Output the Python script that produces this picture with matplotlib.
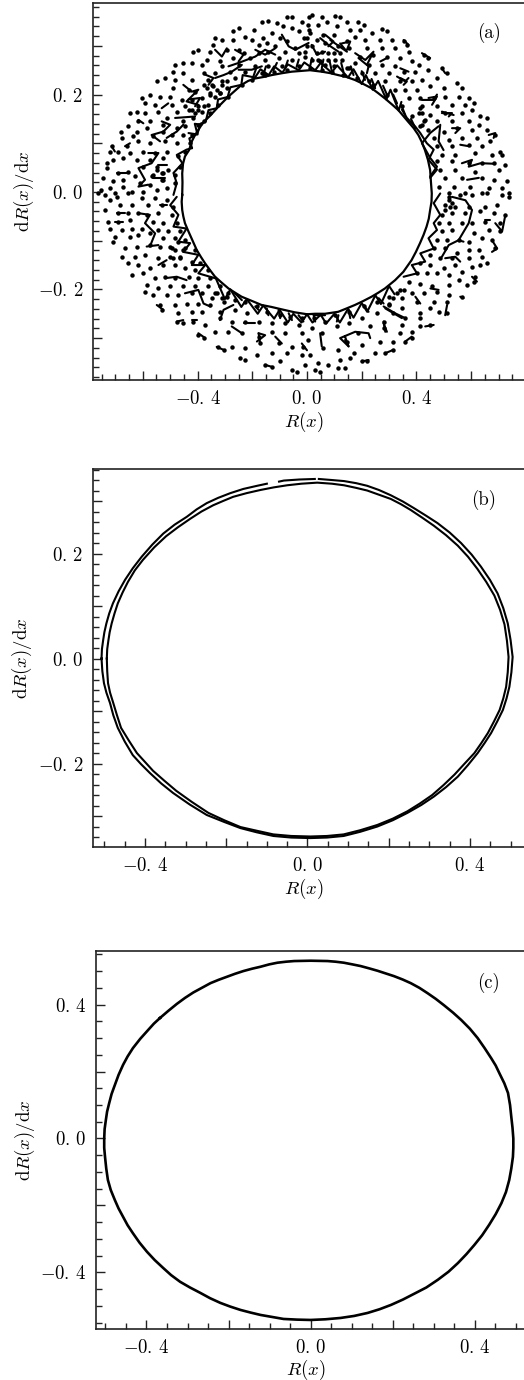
import matplotlib
matplotlib.use('Agg')
import matplotlib.pyplot as plt

plt.rcParams['mathtext.fontset'] = 'cm'
plt.rcParams['font.family'] = ['cmr10', 'DejaVu Serif']
plt.rcParams['axes.formatter.use_mathtext'] = True

nan = float('nan')

# panel (a): marks, by quadrant
dots_tl = [(-.074,.360),(-.055,.360),(.006,.360),(-.165,.350),(-.141,.352),(-.11,.347),(-.086,.340),(-.019,.350),
(-.25,.336),(-.269,.330),(-.195,.333),(-.128,.326),(-.055,.336),(-.031,.330),(.006,.333),(-.336,.316),(-.311,.312),
(-.269,.312),(-.226,.319),(-.202,.312),(-.159,.316),(-.098,.316),(-.074,.309),(-.012,.316),(-.342,.302),(-.293,.292),
(-.177,.302),(-.147,.306),(-.116,.299),(-.043,.295),(0,.299),(-.415,.288),(-.397,.292),(-.354,.288),(-.25,.292),
(-.232,.285),(-.177,.285),(-.141,.288),(-.08,.288),(-.031,.285),(-.366,.271),(-.317,.268),(-.269,.275),(-.208,.275),
(-.153,.271),(-.104,.275),(-.055,.271),(-.006,.278),(-.482,.261),(-.452,.264),(-.421,.264),(-.385,.261),(-.311,.258),
(-.25,.261),(-.189,.258),(-.141,.258),(-.092,.258),(-.488,.247),(-.452,.244),(-.378,.244),(-.336,.244),(-.281,.247),
(-.226,.247),(-.165,.244),(-.122,.247),(-.074,.251),(-.031,.258),(-.549,.228),(-.519,.234),(-.482,.230),(-.421,.230),
(-.36,.230),(-.311,.227),(-.263,.234),(-.202,.230),(-.153,.240),(-.488,.213),(-.433,.210),(-.409,.206),(-.378,.220),
(-.342,.217),(-.293,.213),(-.238,.220),(-.604,.193),(-.574,.200),(-.537,.196),(-.5,.196),(-.458,.189),(-.421,.189),
(-.385,.193),(-.354,.200),(-.317,.203),(-.287,.196),(-.592,.182),(-.555,.179),(-.494,.179),(-.446,.176),(-.397,.176),
(-.36,.179),(-.324,.179),(-.647,.162),(-.623,.165),(-.592,.162),(-.543,.165),(-.476,.165),(-.433,.169),(-.385,.165),
(-.354,.162),(-.616,.145),(-.574,.145),(-.513,.152),(-.452,.145),(-.415,.152),(-.378,.145),(-.68,.124),(-.653,.135),
(-.623,.124),(-.586,.131),(-.525,.138),(-.476,.131),(-.446,.135),(-.397,.138),(-.677,.111),(-.635,.114),(-.561,.114),
(-.525,.124),(-.494,.117),(-.452,.117),(-.421,.117),(-.714,.094),(-.659,.094),(-.616,.104),(-.574,.100),(-.519,.104),
(-.476,.100),(-.427,.100),(-.72,.083),(-.69,.083),(-.647,.080),(-.598,.083),(-.555,.080),(-.513,.083),(-.446,.083),
(-.732,.059),(-.708,.066),(-.671,.069),(-.623,.066),(-.574,.066),(-.525,.069),(-.47,.073),(-.732,.049),(-.69,.039),
(-.653,.042),(-.598,.052),(-.549,.052),(-.507,.046),(-.464,.052),(-.745,.028),(-.708,.022),(-.671,.025),(-.629,.032),
(-.561,.035),(-.525,.039),(-.482,.035),(-.751,.005),(-.72,.008),(-.671,.011),(-.61,.018),(-.574,.015),(-.531,.025),
(-.482,.018),(-.763,-.002),(-.702,-.002),(-.641,.001),(-.598,.001),(-.549,.005),(-.513,.008)]

dots_tr = [(.017,.364),(.054,.36),(.103,.362),(.121,.36),(.146,.35),(.188,.35),(.207,.343),(.274,.334),(.292,.33),
(.005,.343),(.042,.343),(.072,.35),(.109,.34),(.158,.333),(.194,.333),(.237,.326),(.011,.326),(.06,.323),(.097,.323),
(.146,.309),(.176,.319),(.213,.312),(.268,.312),(.31,.312),(.353,.309),(.365,.302),(.017,.299),(.066,.306),(.115,.299),
(.152,.295),(.219,.295),(.274,.295),(.322,.295),(.371,.288),(.054,.288),(.097,.285),(.194,.278),(.243,.282),(.292,.278),
(.341,.275),(.426,.282),(.444,.275),(.017,.271),(.078,.271),(.127,.271),(.176,.265),(.225,.261),(.274,.261),(.322,.258),
(.383,.268),(.408,.261),(.152,.254),(.249,.244),(.298,.244),(.353,.247),(.396,.247),(.444,.251),(.493,.254),(.2,.244),
(.225,.227),(.286,.227),(.341,.227),(.383,.227),(.42,.23),(.475,.234),(.512,.244),(.322,.21),(.359,.21),(.402,.21),
(.45,.217),(.499,.213),(.548,.223),(.566,.213),(.371,.193),(.414,.193),(.463,.193),(.505,.196),(.554,.196),(.591,.193),
(.42,.176),(.475,.176),(.53,.179),(.579,.179),(.609,.182),(.408,.162),(.451,.158),(.505,.162),(.566,.162),(.603,.169),
(.634,.155),(.658,.152),(.426,.145),(.475,.145),(.53,.145),(.591,.145),(.628,.138),(.444,.128),(.499,.124),(.548,.131),
(.603,.128),(.658,.128),(.688,.117),(.463,.111),(.518,.107),(.566,.111),(.621,.111),(.67,.104),(.475,.094),(.53,.094),
(.591,.097),(.64,.094),(.707,.083),(.493,.076),(.542,.076),(.615,.08),(.676,.076),(.713,.076),(.475,.063),(.53,.063),
(.591,.059),(.64,.059),(.682,.059),(.725,.056),(.487,.046),(.542,.046),(.615,.042),(.701,.046),(.505,.029),(.566,.029),
(.64,.029),(.682,.025),(.731,.022),(.481,.011),(.536,.011),(.597,.011),(.664,.008),(.713,.008),(.518,-.002),(.579,-.002),
(.64,-.002),(.737,-.002),(0,.316),(.036,.312),(-.007,.288),(.036,.285),(.048,.268),(.097,.258),(.146,.254),(.011,.254),
(.054,.251),(.09,.247),(.133,.24),(.182,.234),(.243,.22),(.292,.199),(.347,.176),(.383,.155),(.414,.135)]

dots_bl = [(-.738,-.006),(-.696,-.01),(-.653,-.003),(-.604,-.013),(-.555,-.013),(-.513,-.017),(-.72,-.017),(-.684,-.027),
(-.641,-.027),(-.58,-.027),(-.531,-.027),(-.488,-.03),(-.738,-.037),(-.69,-.044),(-.653,-.044),(-.616,-.044),(-.586,-.047),
(-.543,-.044),(-.494,-.047),(-.726,-.061),(-.69,-.061),(-.647,-.058),(-.561,-.061),(-.525,-.064),(-.476,-.064),(-.72,-.075),
(-.677,-.078),(-.641,-.075),(-.604,-.075),(-.543,-.078),(-.507,-.081),(-.464,-.081),(-.702,-.092),(-.647,-.092),(-.616,-.088),
(-.574,-.085),(-.525,-.095),(-.482,-.095),(-.446,-.099),(-.708,-.102),(-.665,-.116),(-.623,-.112),(-.574,-.109),(-.537,-.112),
(-.494,-.116),(-.452,-.119),(-.409,-.119),(-.677,-.133),(-.629,-.133),(-.592,-.129),(-.543,-.136),(-.5,-.133),(-.464,-.136),
(-.421,-.143),(-.391,-.146),(-.653,-.146),(-.616,-.15),(-.574,-.157),(-.525,-.15),(-.482,-.15),(-.446,-.157),(-.409,-.16),
(-.36,-.16),(-.641,-.17),(-.598,-.167),(-.555,-.177),(-.519,-.174),(-.482,-.177),(-.433,-.174),(-.397,-.177),(-.354,-.177),
(-.586,-.191),(-.543,-.198),(-.5,-.194),(-.452,-.194),(-.409,-.194),(-.36,-.194),(-.318,-.194),(-.592,-.205),(-.561,-.211),
(-.513,-.211),(-.47,-.211),(-.421,-.208),(-.385,-.208),(-.336,-.208),(-.287,-.208),(-.537,-.232),(-.482,-.232),(-.44,-.229),
(-.397,-.229),(-.354,-.232),(-.305,-.225),(-.263,-.222),(-.226,-.225),(-.531,-.242),(-.47,-.249),(-.421,-.246),(-.385,-.246),
(-.318,-.246),(-.263,-.242),(-.22,-.249),(-.183,-.235),(-.147,-.246),(-.098,-.253),(-.061,-.256),(-.019,-.259),(-.476,-.266),
(-.452,-.27),(-.415,-.266),(-.372,-.273),(-.318,-.259),(-.275,-.266),(-.226,-.266),(-.177,-.266),(-.128,-.27),(-.08,-.27),
(-.031,-.273),(-.397,-.294),(-.378,-.3),(-.336,-.287),(-.287,-.287),(-.238,-.29),(-.177,-.297),(-.128,-.287),(-.08,-.29),
(-.019,-.29),(-.324,-.318),(-.305,-.324),(-.275,-.318),(-.226,-.321),(-.171,-.311),(-.104,-.311),(-.055,-.318),(-.013,-.318),
(-.244,-.341),(-.226,-.345),(-.183,-.335),(-.128,-.331),(-.074,-.331),(-.019,-.335),(-.153,-.355),(-.128,-.359),(-.098,-.348),
(-.055,-.365),(-.037,-.369),(-.006,-.355)]

dots_br = [(.518,-.01),(.56,-.006),(.603,-.006),(.658,-.003),(.713,-.006),(.737,-.01),(.505,-.027),(.542,-.03),(.591,-.03),
(.652,-.03),(.695,-.027),(.493,-.047),(.53,-.044),(.579,-.044),(.634,-.04),(.682,-.044),(.725,-.047),(.481,-.064),(.518,-.064),
(.566,-.064),(.603,-.064),(.652,-.061),(.707,-.064),(.493,-.081),(.53,-.078),(.609,-.085),(.664,-.078),(.707,-.081),(.475,-.099),
(.512,-.099),(.554,-.099),(.591,-.102),(.64,-.095),(.676,-.099),(.463,-.116),(.505,-.116),(.548,-.126),(.591,-.119),(.628,-.119),
(.688,-.116),(.451,-.129),(.487,-.136),(.53,-.136),(.591,-.136),(.64,-.133),(.658,-.146),(.414,-.146),(.451,-.15),(.499,-.157),
(.542,-.15),(.603,-.153),(.634,-.15),(.402,-.167),(.438,-.167),(.475,-.167),(.518,-.17),(.566,-.164),(.615,-.174),(.371,-.184),
(.414,-.188),(.457,-.194),(.518,-.191),(.554,-.181),(.585,-.191),(.609,-.184),(.341,-.201),(.383,-.208),(.426,-.208),(.475,-.205),
(.518,-.211),(.566,-.215),(.298,-.215),(.347,-.218),(.402,-.225),(.463,-.225),(.512,-.225),(.255,-.225),(.298,-.232),(.347,-.239),
(.414,-.249),(.451,-.239),(.481,-.246),(.512,-.249),(.207,-.235),(.255,-.249),(.316,-.249),(.359,-.259),(.414,-.259),(.152,-.246),
(.2,-.259),(.28,-.266),(.347,-.273),(.414,-.276),(.451,-.273),(.103,-.253),(.152,-.27),(.231,-.276),(.28,-.28),(.341,-.29),
(.383,-.287),(.024,-.259),(.066,-.266),(.109,-.276),(.188,-.29),(.267,-.307),(.316,-.307),(.359,-.307),(.383,-.3),(.017,-.28),
(.054,-.29),(.146,-.307),(.2,-.314),(.249,-.331),(.286,-.331),(.316,-.324),(.005,-.304),(.06,-.321),(.115,-.324),(.17,-.331),
(.219,-.348),(.2,-.348),(.011,-.335),(.042,-.352),(.078,-.355),(.121,-.345),(.158,-.341),(.03,-.365),(.048,-.369),(.115,-.362),(.139,-.362)]

# the fine dotted clusters close to the inner edge
dots_band = [(-.366,.213),(-.348,.22),(-.33,.21),(-.311,.22),(-.293,.227),(-.354,.203),(-.336,.196),(-.317,.203),(-.397,.169),(-.378,.176),
(-.409,.162),(-.421,.169),(-.482,-.119),(-.464,-.133),(-.446,-.116),(-.488,-.136),(-.5,-.112),(-.47,-.102),(-.33,-.208),(-.312,-.218),
(-.348,-.218),(-.293,-.215),(.298,-.229),(.316,-.218),(.329,-.208),(.353,-.201),(.518,-.017),(.524,-.03),(.505,-.037),(.53,-.023),
(.42,.162),(.432,.148),(.414,.172),(.42,.138),(.042,.271),(.078,.285),(.103,.271),(.121,.285),(.066,.261),(-.531,.039),(-.549,.046),
(-.525,.025),(-.568,.032)]

webs = [
[(-.58,.08),(-.543,.08),(-.568,.059),(-.616,.049),(-.592,.025),(-.616,.011),(-.58,.015)],
[(-.531,.145),(-.5,.138),(-.525,.124),(-.568,.117),(-.537,.104)],
[(-.452,.22),(-.421,.206),(-.397,.21),(-.44,.186),(-.397,.179)],
[(-.287,.258),(-.25,.265),(-.189,.278),(-.153,.292),(-.116,.282)],
[(-.092,.323),(-.067,.299),(-.043,.292),(.006,.306)],
[(-.488,-.006),(-.476,.018),(-.488,.039),(-.455,.059),(-.476,.076),(-.44,.087),(-.42,.09)],
[(-.433,.121),(-.4,.118),(-.41,.14),(-.385,.138)],
[(.176,.285),(.213,.271),(.243,.288),(.219,.261)],
[(.341,.234),(.365,.227),(.353,.22)],
[(.444,.193),(.475,.196),(.457,.179)],
[(.493,.165),(.536,.158)],
[(.566,.059),(.603,.066),(.591,.052),(.634,.059)],
[(.45,.032),(.475,.052),(.45,.07),(.42,.1),(.45,.121),(.481,.135)],
[(.121,.305),(.146,.288),(.085,.312)],
[(.048,.316),(.078,.302),(.115,.288)],
[(-.61,-.044),(-.574,-.047),(-.592,-.064),(-.555,-.085),(-.574,-.112)],
[(-.446,-.208),(-.397,-.201),(-.378,-.229),(-.354,-.235)],
[(-.519,-.177),(-.476,-.174),(-.44,-.181)],
[(-.318,-.263),(-.305,-.242),(-.269,-.232)],
[(-.275,-.276),(-.238,-.29)],
[(-.177,-.29),(-.153,-.294),(-.183,-.307)],
[(-.476,-.01),(-.5,-.027),(-.47,-.047),(-.488,-.071),(-.44,-.075),(-.47,-.102),(-.427,-.105),(-.452,-.123),(-.397,-.129),
 (-.421,-.15),(-.372,-.15),(-.397,-.167),(-.336,-.177)],
[(.53,-.01),(.579,-.017),(.603,-.037),(.591,-.064),(.554,-.099),(.518,-.109),(.493,-.133)],
[(.28,-.235),(.322,-.249),(.359,-.259)],
[(.28,-.266),(.286,-.287)],
[(.139,-.297),(.152,-.317),(.121,-.3),(.176,-.287),(.225,-.29),(.231,-.3)],
[(.487,-.003),(.463,-.023),(.487,-.047),(.463,-.064),(.475,-.078),(.444,-.095),(.463,-.116),(.414,-.126),(.432,-.143),
 (.383,-.15),(.402,-.167),(.353,-.174)],
[(.45,.029),(.475,.046),(.444,.066),(.463,.087),(.438,.1),(.414,.121),(.396,.134),(.365,.152),(.347,.169)],
# scallop chains along the inner edge
[(0,-.251),(.02,-.268),(.05,-.252),(.07,-.27),(.1,-.25),(.12,-.268),(.15,-.24),(.17,-.258),(.2,-.228),(.22,-.246),(.25,-.212),(.27,-.23),(.3,-.193),(.32,-.21)],
[(0,-.251),(-.02,-.268),(-.05,-.25),(-.07,-.268),(-.1,-.242),(-.12,-.26),(-.16,-.233),(-.18,-.25),(-.22,-.22),(-.24,-.236),(-.28,-.2),(-.3,-.22),(-.335,-.175)],
[(-.42,.09),(-.43,.11),(-.4,.12),(-.39,.14),(-.37,.145),(-.36,.168),(-.33,.172),(-.325,.19),(-.29,.195),(-.28,.215),(-.24,.22),(-.235,.24),(-.19,.235)],
[(-.19,.235),(-.17,.252),(-.14,.24),(-.12,.258),(-.09,.245),(-.07,.262),(-.03,.25),(-.01,.266),(.03,.25),(.05,.265),(.09,.245),(.11,.26),(.15,.235),(.17,.252),(.2,.222)],
[(.2,.222),(.215,.24),(.24,.21),(.26,.228),(.29,.19),(.305,.21),(.335,.167),(.345,.185)],
]

# short strokes, second reading of the crops
dashes = [
[(-.263,.292),(-.232,.282),(-.25,.268)],[(-.189,.292),(-.153,.282),(-.116,.295)],[(-.336,.234),(-.305,.24),(-.275,.247),(-.238,.261)],
[(-.25,.251),(-.202,.251),(-.165,.258)],[(-.482,.152),(-.433,.154),(-.409,.155)],[(-.452,.138),(-.476,.124),(-.513,.111)],
[(-.543,.056),(-.513,.056)],[(-.561,.028),(-.519,.028)],[(-.696,.039),(-.653,.039)],[(-.714,.094),(-.702,.083)],[(-.665,.094),(-.647,.1)],
[(-.616,.148),(-.598,.141)],[(-.36,.22),(-.342,.234),(-.372,.241)],[(-.433,.19),(-.391,.193),(-.409,.176)],[(-.531,.172),(-.507,.182)],
[(-.336,.292),(-.311,.278),(-.293,.295)],
[(.127,.305),(.158,.309),(.146,.292)],[(.017,.302),(.036,.282),(.066,.288)],[(.066,.323),(.097,.309),(.078,.299)],
[(.188,.275),(.225,.258),(.219,.244)],[(.268,.268),(.292,.275)],[(.341,.254),(.371,.247)],[(.329,.237),(.359,.227),(.371,.234)],
[(.42,.189),(.463,.189),(.475,.2)],[(.493,.162),(.53,.162),(.518,.155)],[(.53,.131),(.56,.131),(.542,.121)],[(.56,.097),(.591,.094)],
[(.664,.117),(.688,.121),(.682,.111)],[(.64,.059),(.682,.058)],[(.585,.025),(.628,.029)],[(.493,.254),(.505,.244)],[(.42,.285),(.45,.275)],
[(.353,.312),(.371,.302)],[(.487,.138),(.481,.104),(.499,.086)],
[(-.696,-.044),(-.665,-.044)],[(-.702,-.061),(-.671,-.061)],[(-.537,-.027),(-.513,-.027)],[(-.586,-.112),(-.543,-.109)],
[(-.543,-.15),(-.513,-.14)],[(-.549,-.232),(-.525,-.242)],[(-.476,-.266),(-.452,-.263)],[(-.421,-.263),(-.403,-.263)],
[(-.33,-.318),(-.305,-.324)],[(-.397,-.29),(-.372,-.3)],[(-.177,-.29),(-.171,-.311)],[(-.232,-.27),(-.19,-.27)],[(-.153,-.355),(-.128,-.359)],
[(-.019,-.311),(0,-.325)],[(-.116,-.297),(-.092,-.311)],[(-.263,-.208),(-.238,-.222)],[(-.189,-.235),(-.177,-.242)],[(-.147,-.239),(-.141,-.253)],
[(-.104,-.242),(-.098,-.259)],[(-.067,-.249),(-.055,-.263)],[(-.031,-.253),(-.013,-.266)],
[(.652,-.058),(.67,-.058)],[(.688,-.064),(.713,-.081),(.725,-.047)],[(.554,-.099),(.572,-.102)],[(.676,-.099),(.695,-.116),(.676,-.123)],
[(.505,-.136),(.542,-.133),(.56,-.143)],[(.451,-.198),(.481,-.201)],[(.396,-.215),(.414,-.229)],[(.286,-.239),(.347,-.259)],
[(.28,-.27),(.292,-.287)],[(.432,-.276),(.463,-.273)],[(.139,-.304),(.152,-.317)],[(.286,-.331),(.316,-.324)],[(.2,-.348),(.225,-.345)],
[(.359,-.307),(.383,-.297)],[(.512,-.232),(.505,-.253)],[(.56,-.215),(.572,-.218)],[(.603,-.174),(.621,-.184)],[(.048,-.29),(.054,-.317)],
[(.03,-.266),(.024,-.253),(.066,-.253)],[(.115,-.253),(.109,-.266)],[(.152,-.242),(.158,-.259)],[(.207,-.232),(.225,-.246)],[(.262,-.218),(.28,-.229)],
[(-.196,.237),(-.185,.255)],[(-.16,.24),(-.15,.258)],[(-.123,.25),(-.11,.265)],[(-.08,.254),(-.07,.27)],[(-.038,.257),(-.03,.272)],
[(.011,.257),(.018,.275)],[(.054,.254),(.06,.272)],[(.09,.25),(.082,.27)],[(.133,.247),(.125,.265)],[(.17,.24),(.16,.258)],
[(.212,.23),(.2,.248)],[(.249,.213),(.236,.232)],[(.292,.2),(.278,.218)],[(.329,.182),(.315,.2)],[(.359,.158),(.345,.178)],[(.396,.131),(.38,.15)],
]

inner_edge = [(-.456,-.006),(-.455,.02),(-.456,.038),(-.453,.058),(-.446,.073),(-.431,.086),(-.42,.105),(-.409,.117),(-.385,.138),(-.37,.148),
(-.355,.156),(-.324,.175),(-.31,.183),(-.287,.196),(-.265,.207),(-.239,.22),(-.215,.228),(-.19,.233),(-.16,.236),(-.129,.24),(-.09,.244),
(-.056,.247),(.011,.25),(.054,.247),(.085,.244),(.114,.24),(.145,.236),(.175,.23),(.205,.222),(.236,.213),(.26,.203),(.285,.192),(.31,.18),
(.334,.168),(.37,.144),(.39,.131),(.407,.117),(.42,.102),(.431,.086),(.442,.066),(.45,.045),(.453,.02),(.456,-.003),(.455,-.02),(.45,-.037),
(.445,-.055),(.437,-.071),(.426,-.088),(.413,-.105),(.398,-.123),(.382,-.14),(.367,-.152),(.352,-.164),(.322,-.181),(.285,-.198),(.26,-.207),
(.236,-.215),(.205,-.224),(.175,-.232),(.145,-.239),(.114,-.246),(.066,-.25),(.03,-.25),(0,-.251),(-.045,-.247),(-.092,-.241),(-.13,-.236),
(-.166,-.232),(-.2,-.224),(-.239,-.215),(-.262,-.207),(-.287,-.198),(-.312,-.186),(-.336,-.174),(-.355,-.16),(-.373,-.146),(-.388,-.133),
(-.403,-.119),(-.422,-.095),(-.434,-.08),(-.446,-.064),(-.452,-.05),(-.456,-.037),(-.458,-.02),(-.456,-.006)]

# panel (b): outer and inner trace of the orbit, with the gaps seen at the top
b_outer = [(-.507,0),(-.506,.018),(-.503,.035),(-.5,.05),(-.495,.067),(-.488,.086),(-.479,.105),(-.465,.128),(-.449,.15),(-.43,.172),(-.408,.194),
(-.382,.217),(-.355,.238),(-.327,.255),(-.297,.27),(-.273,.284),(-.248,.296),(-.22,.306),(-.19,.315),(-.158,.323),(-.124,.329),(-.1,.333),
(nan,nan),(-.07,.337),(-.058,.339),(-.02,.341),(.018,.342),(nan,nan),(.028,.342),(.06,.34),(.09,.338),(.12,.334),(.147,.329),(.176,.321),(.205,.311),(.235,.299),(.263,.286),
(.292,.272),(.32,.258),(.35,.24),(.378,.22),(.404,.198),(.427,.175),(.449,.15),(.468,.124),(.482,.096),(.493,.067),(.5,.035),(.505,.003),(.502,-.026),
(.497,-.054),(.49,-.076),(.481,-.098),(.467,-.12),(.452,-.142),(.436,-.161),(.419,-.18),(.395,-.203),(.37,-.225),(.341,-.245),(.311,-.263),(.28,-.279),
(.246,-.294),(.21,-.308),(.172,-.32),(.13,-.33),(.089,-.338),(.048,-.341),(.007,-.342),(-.04,-.341),(-.084,-.338),(-.125,-.331),(-.165,-.323),(-.206,-.311),(-.248,-.298),
(-.29,-.278),(-.331,-.256),(-.36,-.238),(-.388,-.218),(-.41,-.201),(-.43,-.184),(-.45,-.158),(-.467,-.132),(-.478,-.108),(-.486,-.085),(-.495,-.065),(-.501,-.047),(-.505,-.024),(-.507,0)]
b_inner = [(-.494,0),(-.493,.018),(-.49,.035),(-.487,.05),(-.482,.067),(-.475,.086),(-.467,.105),(-.455,.126),(-.442,.146),(-.425,.168),(-.405,.188),
(-.377,.212),(-.348,.233),(-.319,.25),(-.289,.266),(-.261,.28),(-.232,.292),(-.208,.3),(-.183,.308),(-.15,.315),(-.116,.321),(-.083,.326),(-.05,.33),
(-.015,.333),(.024,.335),(.06,.333),(.09,.33),(.12,.325),(.147,.32),(.176,.312),(.205,.304),(.23,.294),(.254,.283),(.283,.268),(.311,.253),(.341,.235),(.37,.215),
(.395,.194),(.418,.171),(.44,.146),(.46,.12),(.474,.093),(.485,.065),(.491,.034),(.495,.003),(.493,-.026),(.489,-.054),(.482,-.076),(.473,-.098),
(.459,-.12),(.444,-.142),(.428,-.161),(.411,-.18),(.387,-.2),(.362,-.221),(.335,-.241),(.307,-.26),(.277,-.276),(.246,-.291),(.21,-.305),(.172,-.317),
(.13,-.327),(.089,-.335),(.048,-.338),(.007,-.339),(-.04,-.338),(-.084,-.335),(-.125,-.328),(-.165,-.321),(-.205,-.308),(-.244,-.294),(-.285,-.273),
(-.323,-.252),(-.352,-.233),(-.38,-.214),(-.4,-.197),(-.42,-.18),(-.44,-.156),(-.459,-.132),(-.469,-.108),(-.478,-.085),(-.486,-.065),(-.491,-.047),(-.493,-.024),(-.494,0)]

# panel (c)
c_curve = [(-.367,.36),(-.347,.381),(-.326,.402),(-.306,.42),(-.286,.436),(-.265,.45),(-.244,.464),(-.224,.474),(-.204,.483),(-.184,.492),(-.164,.5),
(-.143,.507),(-.122,.513),(-.101,.52),(-.081,.525),(-.06,.528),(-.04,.53),(0,.531),(.041,.53),(.061,.528),(.081,.525),(.102,.52),(.122,.515),(.143,.508),(.163,.501),
(.183,.493),(.203,.485),(.224,.475),(.244,.464),(.265,.45),(.285,.434),(.305,.417),(.325,.398),(.347,.376),(.367,.354),(.388,.328),(.407,.3),(.424,.27),(.44,.24),
(.451,.218),(.46,.195),(.472,.165),(.481,.136),(.486,.1),(.489,.065),(.492,.032),(.494,0),(.494,-.028),(.493,-.055),(.489,-.09),(.484,-.124),(.476,-.16),(.465,-.193),
(.451,-.226),(.435,-.258),(.418,-.289),(.399,-.318),(.38,-.345),(.359,-.372),(.336,-.398),(.31,-.422),(.282,-.445),(.252,-.464),(.225,-.481),(.196,-.497),(.168,-.51),
(.139,-.521),(.106,-.53),(.073,-.536),(.036,-.54),(0,-.542),(-.033,-.541),(-.066,-.539),(-.094,-.533),(-.122,-.527),(-.146,-.52),(-.171,-.512),(-.196,-.502),(-.22,-.491),
(-.245,-.477),(-.269,-.461),(-.294,-.445),(-.318,-.428),(-.34,-.408),(-.359,-.387),(-.38,-.363),(-.399,-.338),(-.417,-.311),(-.433,-.283),(-.446,-.259),(-.457,-.234),
(-.468,-.209),(-.477,-.184),(-.487,-.154),(-.494,-.124),(-.498,-.09),(-.501,-.055),(-.503,-.028),(-.503,0),(-.502,.028),(-.499,.055),(-.496,.08),(-.491,.105),(-.485,.133),
(-.477,.16),(-.468,.19),(-.457,.22),(-.446,.245),(-.433,.27),(-.415,.298),(-.396,.324),(-.382,.343),(-.367,.36)]

xticks_major = [-.6, -.4, -.2, 0, .2, .4, .6]
xticks_minor = [-.75, -.7, -.65, -.55, -.5, -.45, -.35, -.3, -.25, -.15, -.1, -.05, .05, .1, .15, .25, .3, .35, .45, .5, .55, .65, .7, .75]
xtick_labels = ['', '$-0.\\,4$', '', '$0.\\,0$', '', '$0.\\,4$', '']
yticks_ab = [-.3, -.2, -.1, 0, .1, .2, .3]
yticks_ab_minor = [-.38, -.36, -.34, -.32, -.28, -.26, -.24, -.22, -.18, -.16, -.14, -.12, -.08, -.06, -.04, -.02,
                   .02, .04, .06, .08, .12, .14, .16, .18, .22, .24, .26, .28, .32, .34, .36, .38]
ytick_ab_labels = ['', '$-0.\\,2$', '', '$0.\\,0$', '', '$0.\\,2$', '']
yticks_c = [-.4, -.2, 0, .2, .4]
yticks_c_minor = [-.55, -.5, -.45, -.35, -.3, -.25, -.15, -.1, -.05, .05, .1, .15, .25, .3, .35, .45, .5, .55]
ytick_c_labels = ['$-0.\\,4$', '', '$0.\\,0$', '', '$0.\\,4$']

W, H = 524, 1380
fig = plt.figure(figsize=(W / 100, H / 100), dpi=100)


def panel(left, top, bottom, xlim, ylim, yt, ytm, ytl):
    ax = fig.add_axes([left / W, 1 - bottom / H, (W - left) / W, (bottom - top) / H])
    ax.set_xlim(xlim)
    ax.set_ylim(ylim)
    ax.spines['right'].set_visible(False)
    for s in ['left', 'top', 'bottom']:
        ax.spines[s].set_linewidth(1.2)
        ax.spines[s].set_color('#222222')
    ax.set_xticks([t for t in xticks_major if xlim[0] < t < xlim[1]])
    ax.set_xticklabels([l for t, l in zip(xticks_major, xtick_labels) if xlim[0] < t < xlim[1]])
    ax.set_xticks([t for t in xticks_minor if xlim[0] < t < xlim[1]], minor=True)
    ax.set_yticks(yt)
    ax.set_yticklabels(ytl)
    ax.set_yticks([t for t in ytm if ylim[0] < t < ylim[1]], minor=True)
    ax.tick_params(which='major', direction='in', length=6.5, width=1.0, color='#222222', labelsize=13.5, pad=7)
    ax.tick_params(which='minor', direction='in', length=4, width=1.0, color='#222222')
    ax.set_xlabel('$R(x)$', fontsize=13.5)
    ax.set_ylabel('$\\mathrm{d}R(x)/\\mathrm{d}x$', fontsize=13.5)
    return ax


def xy(pts):
    return [p[0] for p in pts], [p[1] for p in pts]


# (a)
ax = panel(93, 3, 380, (-.782, .793), (-.386, .388), yticks_ab, yticks_ab_minor, ytick_ab_labels)
for pts in [dots_tl, dots_tr, dots_bl, dots_br, dots_band]:
    px, py = xy(pts)
    ax.plot(px, py, ls='none', marker='o', ms=3.2, color='black', mew=0)
for w in webs + dashes:
    px, py = xy(w)
    ax.plot(px, py, color='black', lw=1.5, solid_capstyle='round')
px, py = xy(inner_edge)
ax.plot(px, py, color='black', lw=1.6)
ax.xaxis.set_label_coords(.49, -.078)
ax.yaxis.set_label_coords(-.133, .5)
ax.text(.918, .921, '(a)', fontsize=13.5, ha='center', va='center', transform=ax.transAxes)

# (b)
ax = panel(93, 469, 847, (-.528, .533), (-.359, .361), yticks_ab, yticks_ab_minor, ytick_ab_labels)
px, py = xy(b_outer)
ax.plot(px, py, color='black', lw=1.5)
px, py = xy(b_inner)
ax.plot(px, py, color='black', lw=1.5)
ax.xaxis.set_label_coords(.49, -.078)
ax.yaxis.set_label_coords(-.137, .5)
ax.text(.907, .918, '(b)', fontsize=13.5, ha='center', va='center', transform=ax.transAxes)

# (c)
ax = panel(96, 951, 1329, (-.523, .52), (-.569, .56), yticks_c, yticks_c_minor, ytick_c_labels)
px, py = xy(c_curve)
ax.plot(px, py, color='black', lw=1.9)
ax.xaxis.set_label_coords(.49, -.076)
ax.yaxis.set_label_coords(-.139, .5)
ax.text(.916, .915, '(c)', fontsize=13.5, ha='center', va='center', transform=ax.transAxes)

fig.savefig('out.png', dpi=100)
